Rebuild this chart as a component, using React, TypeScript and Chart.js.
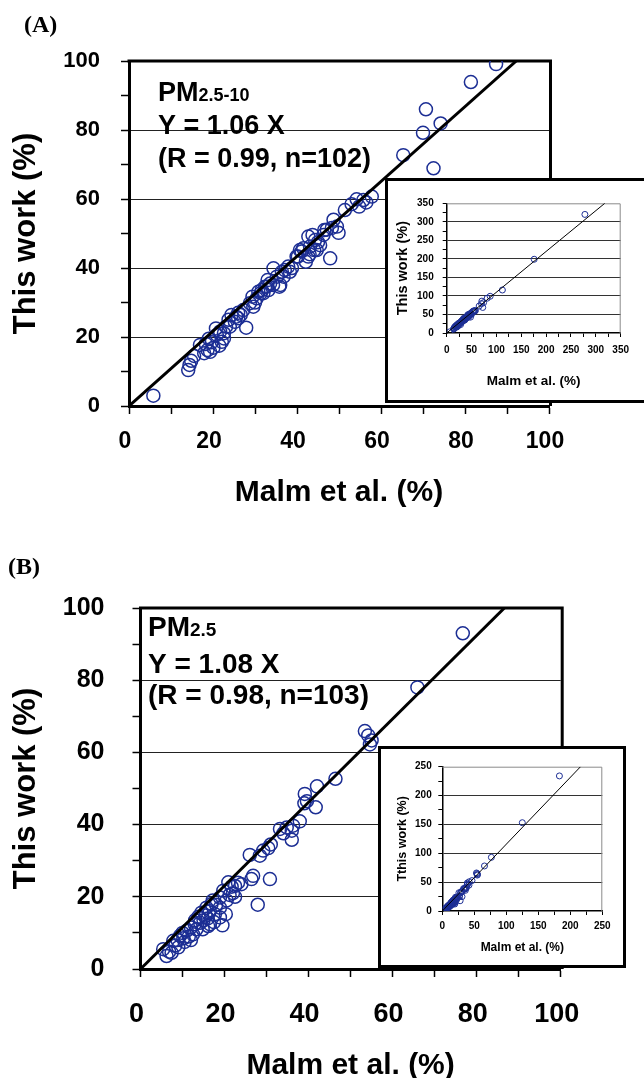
import React, { useEffect, useRef } from 'react';
import { Chart, registerables } from 'chart.js';

Chart.register(...registerables);

const SANS = '"Liberation Sans", Arial, Helvetica, sans-serif';
const SERIF = '"Liberation Serif", "Times New Roman", Times, serif';
const BLUE = '#1c2e94';
Chart.defaults.font.family = SANS;

// ---------- Panel A : PM2.5-10 (x = Malm et al. %, y = This work %) ----------
const malmA = [
  5.8, 14.1, 14.4, 14.8, 15.5, 16.9, 17.9, 18.7, 19.3, 20.1, 19.7, 18.3, 19.0, 20.9, 20.7, 21.5,
  22.1, 22.6, 21.7, 22.6, 23.1, 24.0, 23.7, 24.4, 25.2, 25.5, 26.0, 26.0, 26.6, 27.9, 27.2, 28.8,
  29.4, 29.6, 30.0, 30.4, 30.8, 31.4, 31.6, 32.0, 32.4, 32.8, 33.2, 33.0, 33.6, 34.3, 34.4, 35.2,
  35.8, 36.0, 36.4, 36.8, 37.1, 37.9, 38.3, 38.8, 39.9, 40.2, 40.7, 41.1, 41.5, 42.1, 42.7, 43.0,
  43.1, 42.7, 43.7, 44.1, 44.3, 44.7, 45.0, 45.5, 46.3, 46.5, 47.1, 47.9, 48.3, 48.7, 49.5, 49.9,
  51.4, 53.0, 54.2, 54.8, 55.8, 56.5, 57.8, 65.3, 70.0, 70.7, 72.5, 74.2, 81.4, 87.4, 112, 176, 278,
];
const thisWorkA = [
  3.0, 10.4, 11.9, 13.1, 14.5, 17.7, 15.3, 16.2, 15.7, 16.9, 18.5, 18.0, 19.5, 20.6, 22.5, 17.5,
  18.6, 19.6, 21.6, 21.1, 23.0, 23.0, 25.0, 26.4, 24.4, 25.9, 25.4, 27.0, 26.4, 22.7, 27.8, 29.8,
  31.7, 28.8, 30.0, 31.2, 33.1, 32.7, 33.6, 32.7, 34.6, 34.6, 33.6, 36.5, 35.5, 35.1, 39.9, 37.5,
  34.6, 35.1, 38.9, 37.5, 39.4, 40.4, 38.9, 40.0, 43.3, 43.3, 45.2, 44.8, 45.7, 41.8, 43.3, 44.0,
  46.2, 49.1, 49.6, 45.2, 48.1, 45.2, 47.5, 46.6, 49.6, 51.0, 51.1, 42.8, 51.6, 54.0, 52.0, 50.2,
  56.8, 58.5, 59.9, 57.8, 59.7, 59.0, 60.7, 72.7, 79.2, 86.0, 68.9, 81.9, 93.9, 99.1, 116, 199, 320,
];
const fitMainAX = [0, 92.2];
const fitMainAY = [0, 100];
const fitInsetAX = [0, 318];
const fitInsetAY = [0, 350];

// ---------- Panel B : PM2.5 ----------
const malmB = [
  5.4, 6.2, 7.4, 6.8, 7.8, 8.3, 9.4, 8.8, 10.2, 11.0, 10.5, 12.5, 12.0, 12.9, 13.3, 13.8,
  14.5, 14.2, 15.0, 15.7, 15.5, 16.1, 16.5, 16.9, 16.5, 17.2, 17.7, 18.0, 18.9, 18.9, 18.9, 19.7,
  19.5, 20.3, 20.5, 20.9, 21.2, 21.7, 22.0, 22.5, 22.5, 23.2, 24.0, 26.0, 26.4, 26.8, 27.9, 28.4,
  29.2, 30.4, 31.0, 30.8, 33.2, 34.0, 34.8, 36.0, 36.0, 36.3, 37.9, 39.0, 39.6, 39.1, 41.7, 42.0,
  46.4, 53.4, 54.2, 55.0, 54.6, 65.9, 76.7, 9.0, 11.5, 13.0, 14.8, 16.0, 17.5, 12.0, 10.0, 125, 183,
];
const thisWorkB = [
  5.5, 3.6, 4.5, 4.8, 7.8, 6.5, 9.2, 8.0, 8.5, 10.6, 7.5, 9.6, 11.5, 12.4, 11.0, 14.5,
  15.6, 12.8, 13.5, 17.0, 14.8, 11.9, 12.4, 18.0, 16.0, 19.0, 15.2, 17.8, 19.8, 17.0, 14.3, 21.7,
  12.1, 15.2, 19.0, 24.0, 20.5, 22.8, 21.0, 20.0, 23.0, 23.9, 23.5, 31.6, 24.9, 25.8, 17.8, 31.4,
  32.8, 33.5, 34.5, 24.9, 38.8, 37.6, 39.2, 38.3, 35.8, 39.7, 40.9, 45.9, 46.5, 48.5, 44.8, 50.6,
  52.7, 65.9, 64.7, 63.3, 62.2, 78.0, 93.0, 6.0, 9.0, 13.5, 11.0, 14.0, 13.0, 8.0, 10.0, 153, 234,
];
const fitMainBX = [0, 86.6];
const fitMainBY = [0, 100];
const fitInsetBX = [0, 216];
const fitInsetBY = [0, 250];

// ---------- tick labels ----------
const mainTickLabels = [0, 20, 40, 60, 80, 100];
const mainGridValues = [20, 40, 60, 80];
const insetATickLabels = [0, 50, 100, 150, 200, 250, 300, 350];
const insetAGridValues = [50, 100, 150, 200, 250, 300];
const insetBTickLabels = [0, 50, 100, 150, 200, 250];
const insetBGridValues = [50, 100, 150, 200];

const mainXTitle = 'Malm et al. (%)';
const mainYTitle = 'This work (%)';
const insetAXTitle = 'Malm et al. (%)';
const insetAYTitle = 'This work (%)';
const insetBXTitle = 'Malm et al. (%)';
const insetBYTitle = 'Tthis work (%)';

type Geo = { w: number; h: number; left: number; top: number; right: number; bottom: number };
type Part = { t: string; s: number; f?: string };
type Item = { x: number; y: number; parts: Part[] };

function pairs(xs: number[], ys: number[]) {
  return xs.map((x, i) => ({ x, y: ys[i] }));
}

function framePlugin(color: string, width: number, outside: boolean) {
  return {
    id: 'frame',
    beforeDatasetsDraw(chart: any) {
      const { ctx, chartArea: a } = chart;
      const off = outside ? width / 2 : -width / 2;
      ctx.save();
      ctx.strokeStyle = color;
      ctx.lineWidth = width;
      ctx.beginPath();
      ctx.moveTo(a.left - (outside ? 1.5 : 0), a.top - (outside ? 0 : off));
      ctx.lineTo(a.right + off, a.top - (outside ? 0 : off));
      ctx.lineTo(a.right + off, a.bottom);
      ctx.stroke();
      ctx.restore();
    },
  };
}

function annotPlugin(items: Item[]) {
  return {
    id: 'annot',
    afterDraw(chart: any) {
      const ctx = chart.ctx;
      ctx.save();
      ctx.fillStyle = '#000';
      ctx.textAlign = 'left';
      ctx.textBaseline = 'alphabetic';
      for (const it of items) {
        let x = it.x;
        for (const p of it.parts) {
          ctx.font = `bold ${p.s}px ${p.f || SANS}`;
          ctx.fillText(p.t, x, it.y);
          x += ctx.measureText(p.t).width;
        }
      }
      ctx.restore();
    },
  };
}

function labelCb(labels: number[]) {
  return (v: any) => (labels.includes(Number(v)) ? String(v) : '');
}

function gridColor(vals: number[], color: string) {
  return (c: any) => (c.tick && vals.includes(c.tick.value) ? color : 'rgba(0,0,0,0)');
}

function buildMain(canvas: HTMLCanvasElement, p: any) {
  const g: Geo = p.geo;
  return new Chart(canvas, {
    type: 'scatter',
    data: {
      datasets: [
        {
          type: 'line',
          data: pairs(p.fitX, p.fitY),
          borderColor: '#000',
          borderWidth: 3,
          pointRadius: 0,
          tension: 0,
          fill: false,
        } as any,
        {
          type: 'scatter',
          data: pairs(p.xs, p.ys),
          pointStyle: 'circle',
          pointRadius: 6.5,
          pointBorderWidth: 1.5,
          borderWidth: 1.5,
          borderColor: BLUE,
          pointBorderColor: BLUE,
          backgroundColor: 'rgba(0,0,0,0)',
          pointBackgroundColor: 'rgba(0,0,0,0)',
        } as any,
      ],
    },
    options: {
      animation: false,
      responsive: false,
      maintainAspectRatio: false,
      events: [],
      plugins: { legend: { display: false }, tooltip: { enabled: false } },
      layout: { padding: { left: 0, top: g.top, right: g.w - g.right, bottom: 0 } },
      scales: {
        x: {
          type: 'linear',
          min: 0,
          max: 100,
          afterFit: (s: any) => {
            s.height = g.h - g.bottom;
          },
          ticks: {
            stepSize: 10,
            autoSkip: false,
            maxRotation: 0,
            callback: labelCb(mainTickLabels),
            color: '#000',
            font: { size: p.xTickSize, weight: 'bold' },
            padding: p.xTickPad,
            labelOffset: -4,
          },
          grid: {
            drawOnChartArea: false,
            drawTicks: true,
            tickLength: p.tickLen,
            tickColor: '#000',
            tickWidth: 1.5,
          },
          border: { display: true, color: '#000', width: 3 },
          title: {
            display: true,
            text: mainXTitle,
            color: '#000',
            font: { size: 30, weight: 'bold' },
            padding: { top: 0, bottom: p.xTitlePad },
          },
        },
        y: {
          type: 'linear',
          min: 0,
          max: 100,
          afterFit: (s: any) => {
            s.width = g.left;
          },
          ticks: {
            stepSize: 10,
            autoSkip: false,
            callback: labelCb(mainTickLabels),
            color: '#000',
            font: { size: p.yTickSize, weight: 'bold' },
            padding: p.yTickPad,
          },
          grid: {
            color: gridColor(mainGridValues, '#222'),
            lineWidth: 1,
            drawTicks: true,
            tickLength: p.tickLen,
            tickColor: '#000',
            tickWidth: 1.5,
          },
          border: { display: true, color: '#000', width: 3 },
          title: {
            display: true,
            text: mainYTitle,
            color: '#000',
            font: { size: 31, weight: 'bold' },
            padding: { top: p.yTitlePad, bottom: 0 },
          },
        },
      },
    } as any,
    plugins: [framePlugin('#000', 3, true), annotPlugin(p.annot)] as any,
  });
}

function buildInset(canvas: HTMLCanvasElement, p: any) {
  const g: Geo = p.geo;
  return new Chart(canvas, {
    type: 'scatter',
    data: {
      datasets: [
        {
          type: 'line',
          data: pairs(p.fitX, p.fitY),
          borderColor: '#000',
          borderWidth: 1,
          pointRadius: 0,
          tension: 0,
          fill: false,
        } as any,
        {
          type: 'scatter',
          data: pairs(p.xs, p.ys),
          pointStyle: 'circle',
          pointRadius: 3,
          pointBorderWidth: 1,
          borderWidth: 1,
          borderColor: BLUE,
          pointBorderColor: BLUE,
          backgroundColor: 'rgba(0,0,0,0)',
          pointBackgroundColor: 'rgba(0,0,0,0)',
        } as any,
      ],
    },
    options: {
      animation: false,
      responsive: false,
      maintainAspectRatio: false,
      events: [],
      plugins: { legend: { display: false }, tooltip: { enabled: false } },
      layout: { padding: { left: 0, top: g.top, right: g.w - g.right, bottom: 0 } },
      scales: {
        x: {
          type: 'linear',
          min: 0,
          max: p.max,
          afterFit: (s: any) => {
            s.height = g.h - g.bottom;
          },
          ticks: {
            stepSize: 25,
            autoSkip: false,
            maxRotation: 0,
            callback: labelCb(p.labels),
            color: '#000',
            font: { size: 10, weight: 'bold' },
            padding: p.xTickPad,
          },
          grid: { drawOnChartArea: false, drawTicks: true, tickLength: 4, tickColor: '#000', tickWidth: 1 },
          border: { display: true, color: '#000', width: 1.5 },
          title: {
            display: true,
            text: p.xTitle,
            color: '#000',
            font: { size: p.xTitleSize, weight: 'bold' },
            padding: { top: 0, bottom: p.xTitlePad },
          },
        },
        y: {
          type: 'linear',
          min: 0,
          max: p.max,
          afterFit: (s: any) => {
            s.width = g.left;
          },
          ticks: {
            stepSize: 25,
            autoSkip: false,
            callback: labelCb(p.labels),
            color: '#000',
            font: { size: 10, weight: 'bold' },
            padding: p.yTickPad,
          },
          grid: {
            color: gridColor(p.gridVals, '#333'),
            lineWidth: 1,
            drawTicks: true,
            tickLength: 4,
            tickColor: '#000',
            tickWidth: 1,
          },
          border: { display: true, color: '#000', width: 1.5 },
          title: {
            display: true,
            text: p.yTitle,
            color: '#000',
            font: { size: p.yTitleSize, weight: 'bold' },
            padding: { top: p.yTitlePad, bottom: 0 },
          },
        },
      },
    } as any,
    plugins: [framePlugin('#8a8a8a', 1, false)] as any,
  });
}

export default function App() {
  const aMain = useRef<HTMLCanvasElement>(null);
  const aInset = useRef<HTMLCanvasElement>(null);
  const bMain = useRef<HTMLCanvasElement>(null);
  const bInset = useRef<HTMLCanvasElement>(null);

  useEffect(() => {
    document.documentElement.style.overflow = 'hidden';
    document.body.style.overflow = 'hidden';
    const charts: Chart[] = [];
    charts.push(
      buildMain(aMain.current!, {
        xs: malmA,
        ys: thisWorkA,
        fitX: fitMainAX,
        fitY: fitMainAY,
        geo: { w: 644, h: 540, left: 129, top: 61, right: 549, bottom: 406 },
        xTickSize: 23,
        yTickSize: 22,
        xTickPad: 14,
        yTickPad: 21,
        tickLen: 8,
        xTitlePad: 29,
        yTitlePad: 8,
        annot: [
          { x: 24, y: 32, parts: [{ t: '(A)', s: 24, f: SERIF }] },
          { x: 158, y: 101, parts: [{ t: 'PM', s: 27 }, { t: '2.5-10', s: 18 }] },
          { x: 158, y: 134, parts: [{ t: 'Y = 1.06 X', s: 27 }] },
          { x: 158, y: 167, parts: [{ t: '(R = 0.99, n=102)', s: 27 }] },
        ],
      })
    );
    charts.push(
      buildInset(aInset.current!, {
        xs: malmA,
        ys: thisWorkA,
        fitX: fitInsetAX,
        fitY: fitInsetAY,
        max: 350,
        labels: insetATickLabels,
        gridVals: insetAGridValues,
        geo: { w: 256, h: 219, left: 58.7, top: 22.3, right: 232.7, bottom: 152 },
        xTickPad: 7,
        yTickPad: 9,
        xTitleSize: 13.5,
        yTitleSize: 14.5,
        xTitle: insetAXTitle,
        yTitle: insetAYTitle,
        xTitlePad: 11,
        yTitlePad: 6,
      })
    );
    charts.push(
      buildMain(bMain.current!, {
        xs: malmB,
        ys: thisWorkB,
        fitX: fitMainBX,
        fitY: fitMainBY,
        geo: { w: 644, h: 550, left: 140.5, top: 68, right: 560.7, bottom: 429 },
        xTickSize: 27,
        yTickSize: 25,
        xTickPad: 21,
        yTickPad: 28,
        tickLen: 8,
        xTitlePad: 6,
        yTitlePad: 8,
        annot: [
          { x: 8, y: 34, parts: [{ t: '(B)', s: 24, f: SERIF }] },
          { x: 148, y: 96, parts: [{ t: 'PM', s: 28 }, { t: '2.5', s: 19 }] },
          { x: 148, y: 133, parts: [{ t: 'Y = 1.08 X', s: 28 }] },
          { x: 148, y: 164, parts: [{ t: '(R = 0.98, n=103)', s: 28 }] },
        ],
      })
    );
    charts.push(
      buildInset(bInset.current!, {
        xs: malmB,
        ys: thisWorkB,
        fitX: fitInsetBX,
        fitY: fitInsetBY,
        max: 250,
        labels: insetBTickLabels,
        gridVals: insetBGridValues,
        geo: { w: 242, h: 216, left: 61.3, top: 17.7, right: 221.3, bottom: 162 },
        xTickPad: 5,
        yTickPad: 6.6,
        xTitleSize: 12,
        yTitleSize: 12.5,
        xTitle: insetBXTitle,
        yTitle: insetBYTitle,
        xTitlePad: 10.5,
        yTitlePad: 14,
      })
    );
    return () => charts.forEach((c) => c.destroy());
  }, []);

  return (
    <div
      style={{
        position: 'absolute',
        left: 0,
        top: 0,
        width: 644,
        height: 1078,
        overflow: 'hidden',
        background: '#fff',
      }}
    >
      <canvas
        ref={aMain}
        width={644}
        height={540}
        style={{ position: 'absolute', left: 0, top: 0, width: 644, height: 540 }}
      />
      <div
        style={{
          position: 'absolute',
          left: 385,
          top: 178,
          width: 300,
          height: 225,
          border: '3px solid #000',
          boxSizing: 'border-box',
          background: '#fff',
        }}
      >
        <canvas
          ref={aInset}
          width={256}
          height={219}
          style={{ position: 'absolute', left: 0, top: 0, width: 256, height: 219 }}
        />
      </div>
      <canvas
        ref={bMain}
        width={644}
        height={550}
        style={{ position: 'absolute', left: 0, top: 540, width: 644, height: 550 }}
      />
      <div
        style={{
          position: 'absolute',
          left: 378,
          top: 746,
          width: 248,
          height: 222,
          border: '3px solid #000',
          boxSizing: 'border-box',
          background: '#fff',
        }}
      >
        <canvas
          ref={bInset}
          width={242}
          height={216}
          style={{ position: 'absolute', left: 0, top: 0, width: 242, height: 216 }}
        />
      </div>
    </div>
  );
}
